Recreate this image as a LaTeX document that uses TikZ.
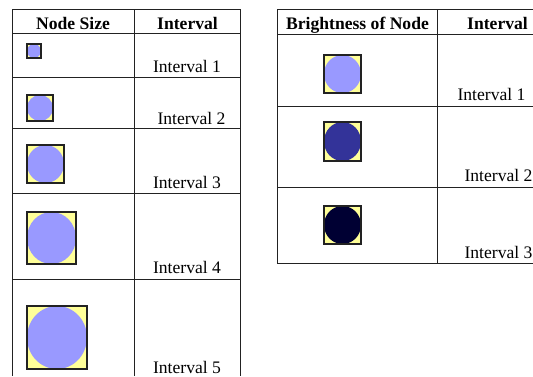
\documentclass[tikz,border=0pt]{standalone}
\usepackage{fontspec}
\setmainfont{Liberation Serif}
\definecolor{lightblob}{HTML}{9999FF}
\definecolor{midblob}{HTML}{333399}
\definecolor{darkblob}{HTML}{000033}
\definecolor{paleyellow}{HTML}{FFFF99}
\definecolor{rule}{HTML}{222222}
\tikzset{
  cell/.style={inner sep=0pt,anchor=base,font=\fontsize{17.6}{20}\selectfont},
  headcell/.style={cell,font=\fontsize{17.6}{20}\selectfont\bfseries},
  tableline/.style={rule,line width=0.8pt}
}
% square with a circle in it, x y w h colour
\newcommand{\nodeicon}[5]{%
  \fill[paleyellow] (#1,#2) rectangle ++(#3,#4);
  \fill[#5] ({#1+#3/2},{#2+#4/2}) ellipse ({#3/2} and {#4/2});
  \draw[rule,line width=1.2pt] (#1,#2) rectangle ++(#3,#4);
}
\begin{document}
\begin{tikzpicture}[x=1pt,y=-1pt]
\useasboundingbox (0,0) rectangle (533,376);

\def\BLOBONE{lightblob}
\def\BLOBTWO{midblob}
\def\BLOBTHREE{darkblob}
	% left table
	\draw[tableline] (12,9) -- (240,9);
	\draw[tableline] (12,33) -- (240,33);
	\draw[tableline] (12,77) -- (240,77);
	\draw[tableline] (12,128) -- (240,128);
	\draw[tableline] (12,193) -- (240,193);
	\draw[tableline] (12,279) -- (240,279);
	\draw[tableline] (12,9) -- (12,376);
	\draw[tableline] (134,9) -- (134,376);
	\draw[tableline] (240,9) -- (240,376);
	\node[headcell] (sizehead) at (73,29) {Node Size};
	\node[headcell] (sizeint) at (187.5,29) {Interval};
	\nodeicon{27}{44}{14}{14}{\BLOBONE}
	\nodeicon{27}{95}{26}{26}{\BLOBONE}
	\nodeicon{27}{145}{37}{38}{\BLOBONE}
	\nodeicon{27}{212}{49}{52}{\BLOBONE}
	\nodeicon{27}{306}{60}{63}{\BLOBONE}
	\node[cell] (sizeone) at (187,72) {Interval 1};
	\node[cell] (sizetwo) at (191.5,124) {Interval 2};
	\node[cell] (sizethree) at (187,188) {Interval 3};
	\node[cell] (sizefour) at (187,273) {Interval 4};
	\node[cell] (sizefive) at (187,373.5) {Interval 5};
	% right table
	\draw[tableline] (277,9) -- (533,9);
	\draw[tableline] (277,34) -- (533,34);
	\draw[tableline] (277,106) -- (533,106);
	\draw[tableline] (277,187) -- (533,187);
	\draw[tableline] (277,263) -- (533,263);
	\draw[tableline] (277,9) -- (277,263);
	\draw[tableline] (437,9) -- (437,263);
	\node[headcell] (brighthead) at (357.5,29) {Brightness of Node};
	\node[headcell] (brightint) at (497.5,29) {Interval};
	\nodeicon{324}{55}{37}{38}{\BLOBONE}
	\nodeicon{324}{122}{37}{39}{\BLOBTWO}
	\nodeicon{324}{206}{37}{38}{\BLOBTHREE}
	\node[cell] (brightone) at (491.5,100) {Interval 1};
	\node[cell] (brighttwo) at (498.5,181) {Interval 2};
	\node[cell] (brightthree) at (498.5,258) {Interval 3};

          \end{tikzpicture}
\end{document}
